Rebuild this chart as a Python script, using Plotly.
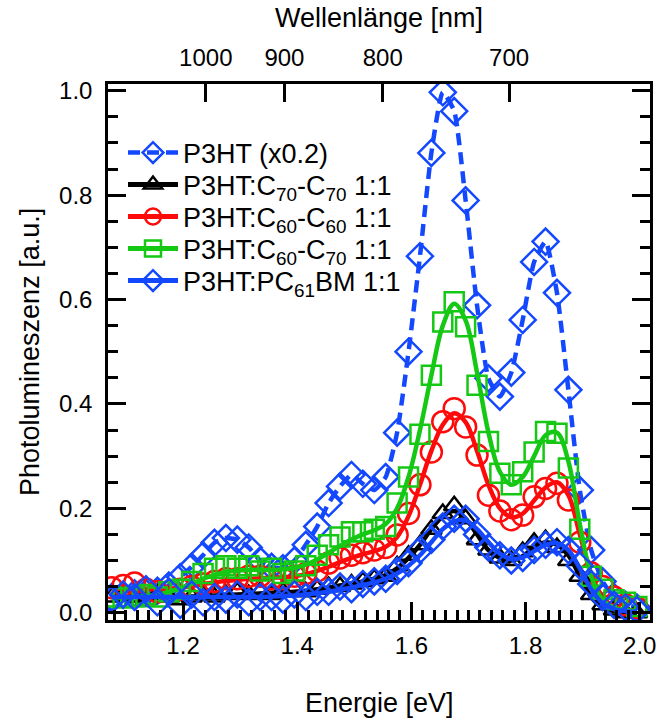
import plotly.graph_objects as go

# Photon energy grid (eV), shared by all spectra
energy = [1.075, 1.095, 1.115, 1.135, 1.155, 1.175, 1.195, 1.215, 1.235, 1.255,
          1.275, 1.295, 1.315, 1.335, 1.355, 1.375, 1.395, 1.415, 1.435, 1.455,
          1.475, 1.495, 1.515, 1.535, 1.555, 1.575, 1.595, 1.615, 1.635, 1.655,
          1.675, 1.695, 1.715, 1.735, 1.755, 1.775, 1.795, 1.815, 1.835, 1.855,
          1.875, 1.895, 1.915, 1.935, 1.955, 1.975, 1.995]

# Pristine P3HT (scaled by 0.2)
p3ht = [0.030, 0.034, 0.037, 0.038, 0.042, 0.052, 0.068, 0.088, 0.110, 0.134,
        0.143, 0.140, 0.125, 0.100, 0.088, 0.085, 0.100, 0.130, 0.165, 0.210,
        0.242, 0.264, 0.247, 0.235, 0.260, 0.345, 0.500, 0.683, 0.881, 0.997,
        0.961, 0.790, 0.589, 0.449, 0.414, 0.460, 0.561, 0.672, 0.711, 0.613,
        0.427, 0.235, 0.120, 0.060, 0.030, 0.015, 0.010]

# Blends: measured points
c70c70 = [0.030, 0.035, 0.030, 0.025, 0.035, 0.030, 0.025, 0.030, 0.035, 0.030,
          0.035, 0.040, 0.035, 0.040, 0.035, 0.040, 0.045, 0.040, 0.045, 0.050,
          0.050, 0.055, 0.060, 0.065, 0.070, 0.090, 0.110, 0.130, 0.160, 0.190,
          0.205, 0.180, 0.140, 0.120, 0.105, 0.100, 0.117, 0.135, 0.140, 0.125,
          0.100, 0.070, 0.035, 0.015, 0.005, 0.000, 0.000]
c60c60 = [0.048, 0.052, 0.057, 0.045, 0.040, 0.040, 0.045, 0.050, 0.055, 0.060,
          0.065, 0.065, 0.070, 0.070, 0.065, 0.065, 0.070, 0.075, 0.080, 0.095,
          0.105, 0.110, 0.115, 0.120, 0.125, 0.149, 0.190, 0.245, 0.308, 0.366,
          0.391, 0.356, 0.302, 0.225, 0.195, 0.178, 0.187, 0.222, 0.238, 0.248,
          0.216, 0.135, 0.076, 0.050, 0.030, 0.015, 0.010]
c60c70 = [0.030, 0.028, 0.030, 0.035, 0.030, 0.040, 0.045, 0.060, 0.075, 0.085,
          0.090, 0.085, 0.090, 0.080, 0.085, 0.075, 0.080, 0.090, 0.110, 0.130,
          0.145, 0.155, 0.155, 0.160, 0.165, 0.210, 0.260, 0.342, 0.455, 0.557,
          0.596, 0.548, 0.436, 0.328, 0.267, 0.245, 0.270, 0.308, 0.347, 0.344,
          0.277, 0.160, 0.070, 0.045, 0.025, 0.020, 0.012]
pcbm = [0.025, 0.035, 0.030, 0.045, 0.020, 0.040, 0.015, 0.035, 0.020, 0.030,
        0.025, 0.035, 0.020, 0.030, 0.030, 0.025, 0.035, 0.030, 0.040, 0.040,
        0.050, 0.045, 0.055, 0.060, 0.065, 0.080, 0.095, 0.120, 0.140, 0.165,
        0.180, 0.180, 0.150, 0.125, 0.110, 0.100, 0.105, 0.120, 0.130, 0.135,
        0.120, 0.090, 0.055, 0.030, 0.015, 0.010, 0.005]

# Blends: smoothed curves
c70c70_fit = [0.030, 0.030, 0.030, 0.030, 0.030, 0.030, 0.030, 0.031, 0.032, 0.033,
              0.034, 0.035, 0.036, 0.037, 0.038, 0.039, 0.040, 0.042, 0.045, 0.048,
              0.052, 0.056, 0.060, 0.065, 0.072, 0.085, 0.105, 0.130, 0.160, 0.185,
              0.195, 0.180, 0.150, 0.120, 0.105, 0.100, 0.108, 0.125, 0.135, 0.130,
              0.110, 0.070, 0.030, 0.010, 0.003, 0.000, 0.000]
c60c60_fit = [0.046, 0.046, 0.045, 0.045, 0.045, 0.046, 0.048, 0.051, 0.055, 0.058,
              0.061, 0.063, 0.065, 0.066, 0.067, 0.068, 0.070, 0.074, 0.080, 0.088,
              0.097, 0.105, 0.112, 0.118, 0.126, 0.145, 0.185, 0.245, 0.310, 0.360,
              0.382, 0.365, 0.310, 0.245, 0.200, 0.183, 0.190, 0.215, 0.240, 0.250,
              0.225, 0.150, 0.075, 0.030, 0.012, 0.005, 0.003]
c60c70_fit = [0.029, 0.029, 0.030, 0.032, 0.035, 0.040, 0.047, 0.055, 0.065, 0.072,
              0.078, 0.081, 0.082, 0.082, 0.082, 0.083, 0.086, 0.092, 0.102, 0.115,
              0.128, 0.140, 0.150, 0.158, 0.170, 0.200, 0.260, 0.350, 0.455, 0.550,
              0.592, 0.560, 0.460, 0.345, 0.270, 0.245, 0.260, 0.300, 0.340, 0.345,
              0.290, 0.170, 0.070, 0.025, 0.010, 0.005, 0.003]
pcbm_fit = [0.030, 0.030, 0.030, 0.030, 0.030, 0.030, 0.030, 0.030, 0.030, 0.030,
            0.030, 0.030, 0.030, 0.030, 0.031, 0.032, 0.033, 0.035, 0.037, 0.040,
            0.044, 0.048, 0.053, 0.058, 0.065, 0.075, 0.090, 0.110, 0.135, 0.160,
            0.175, 0.177, 0.160, 0.135, 0.113, 0.103, 0.106, 0.118, 0.130, 0.133,
            0.120, 0.085, 0.045, 0.018, 0.007, 0.003, 0.002]

# Wavelength ticks for the top axis (nm)
wavelengths = [1000, 900, 800, 700]
HC = 1239.84  # eV*nm

BLUE = "#1448ff"
GREEN = "#14c814"
RED = "#ff0a0a"
BLACK = "#000000"
FONT = "Liberation Sans, Arial, sans-serif"

E_RANGE = [1.0685, 2.018]
W, H = 663, 722
plot_left, plot_right = 108, 650
plot_top, plot_bottom = 84, 620
plot_w = plot_right - plot_left
plot_h = plot_bottom - plot_top

fig = go.Figure()

blends = [
    ("P3HT:C<sub>70</sub>-C<sub>70</sub> 1:1", c70c70, c70c70_fit, BLACK, "triangle-up-open", 18),
    ("P3HT:C<sub>60</sub>-C<sub>60</sub> 1:1", c60c60, c60c60_fit, RED, "circle-open", 21),
    ("P3HT:C<sub>60</sub>-C<sub>70</sub> 1:1", c60c70, c60c70_fit, GREEN, "square-open", 19),
    ("P3HT:PC<sub>61</sub>BM 1:1", pcbm, pcbm_fit, BLUE, "diamond-open", 20),
]
legend_ids = ["legend2", "legend3", "legend4", "legend5"]

# P3HT reference: dashed line through the points
fig.add_trace(go.Scatter(
    x=energy, y=p3ht, mode="lines+markers", name="P3HT (x0.2)", legend="legend",
    line=dict(color=BLUE, width=4.5, dash="12px,7px", shape="spline", smoothing=0.5),
    marker=dict(symbol="diamond-open", size=20, color=BLUE, line=dict(width=2.5, color=BLUE)),
))

for (name, pts, fit, col, sym, size), lg in zip(blends, legend_ids):
    fig.add_trace(go.Scatter(
        x=energy, y=pts, mode="markers", showlegend=False,
        marker=dict(symbol=sym, size=size, color=col, line=dict(width=2.5, color=col)),
    ))
    fig.add_trace(go.Scatter(
        x=energy, y=fit, mode="lines", showlegend=False,
        line=dict(color=col, width=4.5, shape="spline", smoothing=1.0),
    ))
    # legend entry (line + symbol)
    fig.add_trace(go.Scatter(
        x=[None], y=[None], mode="lines+markers", name=name, legend=lg,
        line=dict(color=col, width=5),
        marker=dict(symbol=sym, size=size, color=col, line=dict(width=2.5, color=col)),
    ))

# Empty trace that carries the wavelength axis
fig.add_trace(go.Scatter(x=[None], y=[None], xaxis="x2", showlegend=False, hoverinfo="skip"))

axis_common = dict(
    showgrid=False, zeroline=False, linecolor="black", linewidth=2.5, automargin=False,
    ticks="inside", tickcolor="black", tickwidth=2.5, ticklen=18,
    tickfont=dict(family=FONT, size=24, color="black"),
)

# One legend box per entry so that the rows sit at fixed heights
row_y = [153, 185, 217, 249, 281]  # pixel rows of the legend entries
legends = {}
for i, py in enumerate(row_y):
    key = "legend" if i == 0 else f"legend{i + 1}"
    legends[key] = dict(
        x=15 / plot_w, y=1 - (py - plot_top) / plot_h, xanchor="left", yanchor="middle",
        bgcolor="rgba(0,0,0,0)", itemwidth=50, borderwidth=0,
        font=dict(family=FONT, size=27, color="black"),
    )

title_font = dict(family=FONT, size=27, color="black")
titles = [
    dict(text="Energie [eV]", x=0.5, y=-(703 - plot_bottom) / plot_h, textangle=0),
    dict(text="Wellenlänge [nm]", x=0.5, y=1 + (plot_top - 18) / plot_h, textangle=0),
    dict(text="Photolumineszenz [a.u.]", x=-(plot_left - 30) / plot_w,
         y=1 - (352 - plot_top) / plot_h, textangle=-90),
]
annotations = [
    dict(xref="paper", yref="paper", xanchor="center", yanchor="middle",
         showarrow=False, font=title_font, **t)
    for t in titles
]

fig.update_layout(
    width=W, height=H,
    margin=dict(l=plot_left, r=W - plot_right, t=plot_top, b=H - plot_bottom),
    paper_bgcolor="white", plot_bgcolor="white",
    font=dict(family=FONT, size=24, color="black"),
    xaxis=dict(
        **axis_common, showline=True, range=E_RANGE, mirror=True,
        tickvals=[1.2, 1.4, 1.6, 1.8, 2.0], tickformat=".1f", ticklabelstandoff=2,
        minor=dict(dtick=0.02, ticks="inside", ticklen=10, tickwidth=2.5, tickcolor="black"),
    ),
    xaxis2=dict(
        **axis_common, showline=False,
        overlaying="x", side="top", anchor="y", range=E_RANGE,
        tickvals=[HC / w for w in wavelengths], ticktext=[str(w) for w in wavelengths],
        ticklabelstandoff=12,
    ),
    yaxis=dict(
        **axis_common, showline=True, range=[-0.014, 1.013], mirror="ticks",
        tickvals=[0.0, 0.2, 0.4, 0.6, 0.8, 1.0], tickformat=".1f", ticklabelstandoff=8,
        minor=dict(dtick=0.05, ticks="inside", ticklen=10, tickwidth=2.5, tickcolor="black"),
    ),
    annotations=annotations,
    **legends,
)

fig.write_html("out.html")
